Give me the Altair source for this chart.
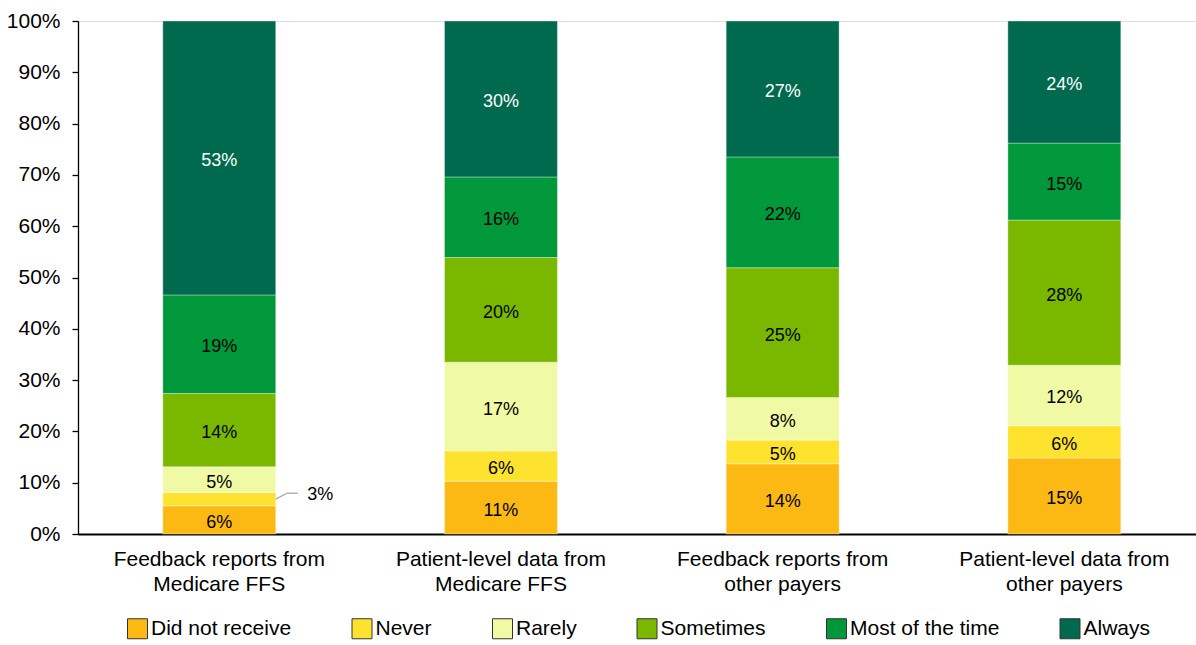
import altair as alt
import pandas as pd

FONT = "Liberation Sans"

categories = [
    "Feedback reports from\nMedicare FFS",
    "Patient-level data from\nMedicare FFS",
    "Feedback reports from\nother payers",
    "Patient-level data from\nother payers",
]
responses = ["Did not receive", "Never", "Rarely", "Sometimes", "Most of the time", "Always"]
colors = ["#FDB913", "#FDE22E", "#F0FAA5", "#7AB800", "#00983A", "#006A4E"]

# segment heights (percent)
did_not_receive = [5.5, 10.3, 13.7, 14.8]
never = [2.6, 5.9, 4.6, 6.3]
rarely = [5.0, 17.3, 8.3, 11.8]
sometimes = [14.3, 20.4, 25.3, 28.3]
most_of_the_time = [19.2, 15.7, 21.6, 15.0]
always = [53.4, 30.4, 26.5, 23.8]

# printed labels
did_not_receive_lbl = [6, 11, 14, 15]
never_lbl = [3, 6, 5, 6]
rarely_lbl = [5, 17, 8, 12]
sometimes_lbl = [14, 20, 25, 28]
most_of_the_time_lbl = [19, 16, 22, 15]
always_lbl = [53, 30, 27, 24]

series = [did_not_receive, never, rarely, sometimes, most_of_the_time, always]
series_lbl = [did_not_receive_lbl, never_lbl, rarely_lbl, sometimes_lbl, most_of_the_time_lbl, always_lbl]

rows = []
for ci, c in enumerate(categories):
    base = 0.0
    for ri, r in enumerate(responses):
        v = series[ri][ci]
        rows.append(dict(category=c, resp=r, order=ri, v=v, y0=base, y1=base + v,
                         mid=base + v / 2, lbl=f"{series_lbl[ri][ci]}%"))
        base += v
df = pd.DataFrame(rows)

xscale = alt.Scale(domain=categories, paddingInner=0.599, paddingOuter=0.284, align=0.53)
x_enc = alt.X("category:N", sort=categories, scale=xscale,
              axis=alt.Axis(title=None, labelAngle=0, ticks=False, domainColor="black",
                            domainWidth=2, labelFontSize=21, labelFont=FONT, labelColor="black",
                            labelLineHeight=25, labelPadding=14, labelLimit=400,
                            labelExpr="split(datum.value, '\\n')"))
yscale = alt.Scale(domain=[0, 100], nice=False)

bars = alt.Chart(df).mark_bar(stroke="white", strokeWidth=0.6, strokeOpacity=0.6).encode(
    x=x_enc,
    y=alt.Y("y0:Q", scale=yscale,
            axis=alt.Axis(title=None, values=list(range(0, 101, 10)), labelExpr="datum.value + '%'",
                          grid=False, domainColor="black", tickColor="black", tickSize=6,
                          domainWidth=1.3, tickWidth=1.3, labelFontSize=21, labelFont=FONT,
                          labelColor="black", labelPadding=12)),
    y2="y1:Q",
    color=alt.Color("resp:N", scale=alt.Scale(domain=responses, range=colors),
                    legend=alt.Legend(orient="none", legendX=49, legendY=597, direction="horizontal",
                                      columns=6, title=None, symbolType="square", symbolSize=400,
                                      symbolStrokeColor="#333333", symbolStrokeWidth=1,
                                      symbolOpacity=1, labelFontSize=21, labelFont=FONT,
                                      labelColor="black", columnPadding=57.5, labelOffset=3,
                                      padding=0)),
)

inside = alt.Chart(df).transform_filter("datum.v >= 3").mark_text(
    font=FONT, fontSize=18, baseline="middle", dy=3).encode(
    x=alt.X("category:N", sort=categories),
    y=alt.Y("mid:Q"),
    text="lbl:N",
    color=alt.condition(alt.datum.resp == "Always", alt.value("white"), alt.value("black")),
)

small = alt.Chart(df).transform_filter("datum.v < 3").transform_calculate(
    ly="datum.mid + 1.15")

outside = small.mark_text(
    font=FONT, fontSize=18, baseline="middle", align="left", dx=88, dy=2, color="black").encode(
    x=alt.X("category:N", sort=categories),
    y=alt.Y("ly:Q"),
    text="lbl:N",
)

leader_diag = small.mark_rule(color="#A6A6A6", strokeWidth=1.3, xOffset=56.5, x2Offset=67.5).encode(
    x=alt.X("category:N", sort=categories),
    x2=alt.X2("category:N"),
    y=alt.Y("mid:Q"),
    y2=alt.Y2("ly:Q"),
)
leader_flat = small.mark_rule(color="#A6A6A6", strokeWidth=1.3, xOffset=67.5, x2Offset=78.5).encode(
    x=alt.X("category:N", sort=categories),
    x2=alt.X2("category:N"),
    y=alt.Y("ly:Q"),
)

chart = alt.layer(bars, inside, outside, leader_diag, leader_flat).properties(
    width=1118, height=513,
    padding={"left": 78, "top": 21, "right": 0, "bottom": 111},
    autosize=alt.AutoSizeParams(type="none"),
).configure_view(stroke=None).configure(background="white")

chart.save("out.html", embed_options={"renderer": "svg", "actions": False})
